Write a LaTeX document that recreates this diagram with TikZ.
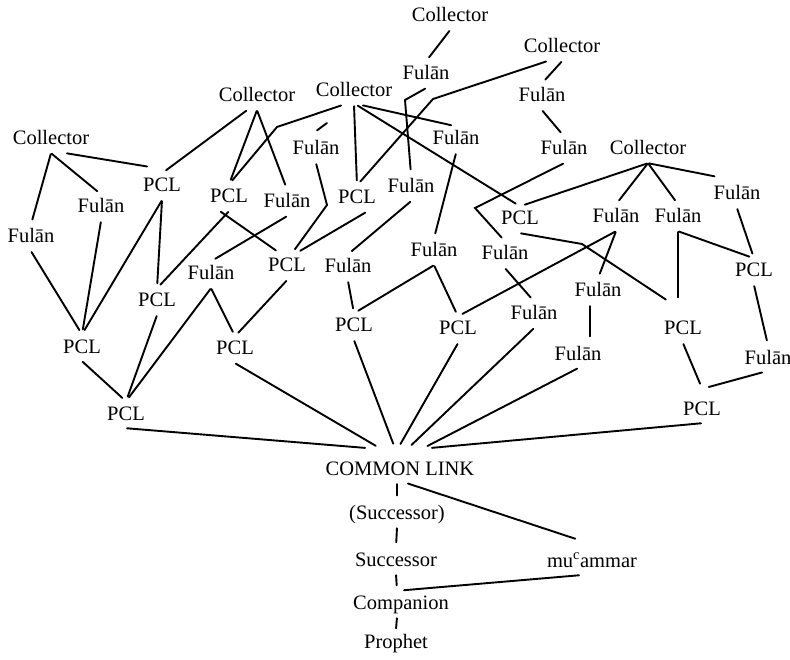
\documentclass[tikz,border=0pt]{standalone}
\usepackage{fontspec}
\setmainfont{Liberation Serif}
\begin{document}
\begin{tikzpicture}[x=1pt,y=-1pt,
  lbl/.style={anchor=base, font=\fontsize{20.5}{24}\selectfont, inner xsep=2pt, inner ysep=4pt, text height=14.5pt, text depth=4pt},
  cn/.style={line width=1.9pt, line cap=round, shorten >=5pt, shorten <=1pt}]
\fill[white] (0,0) rectangle (790,660);
\useasboundingbox (0,0) rectangle (790,660);
% collectors
\node[lbl] (CA) at (450,22) {Collector};
\node[lbl] (CB) at (562,53) {Collector};
\node[lbl] (CC) at (354,97) {Collector};
\node[lbl] (CD) at (257,102) {Collector};
\node[lbl] (CE) at (51,145) {Collector};
\node[lbl] (CF) at (648,155) {Collector};
% Fulan
\node[lbl] (F1) at (426,80) {Fulān};
\node[lbl] (F2) at (542,102) {Fulān};
\node[lbl] (F3) at (564,155) {Fulān};
\node[lbl] (F4) at (287,208) {Fulān};
\node[lbl] (F5) at (316,155) {Fulān};
\node[lbl] (F6) at (411,193) {Fulān};
\node[lbl] (F7) at (456,145) {Fulān};
\node[lbl] (F8) at (616,223) {Fulān};
\node[lbl] (F9) at (678,223) {Fulān};
\node[lbl] (F10) at (737,200) {Fulān};
\node[lbl] (F11) at (101,213) {Fulān};
\node[lbl] (F12) at (31,243) {Fulān};
\node[lbl] (F13) at (211,280) {Fulān};
\node[lbl] (F14) at (348,273) {Fulān};
\node[lbl] (F15) at (434,257) {Fulān};
\node[lbl] (F16) at (505,260) {Fulān};
\node[lbl] (F17) at (598,297) {Fulān};
\node[lbl] (F18) at (534,320) {Fulān};
\node[lbl] (F19) at (578,360) {Fulān};
\node[lbl] (F20) at (768,364) {Fulān};
% PCL
\node[lbl] (P1) at (162,192) {PCL};
\node[lbl] (P2) at (229,203) {PCL};
\node[lbl] (P3) at (357,204) {PCL};
\node[lbl] (P4) at (520,225) {PCL};
\node[lbl] (P5) at (287,272) {PCL};
\node[lbl] (P6) at (754,277) {PCL};
\node[lbl] (P7) at (157,307) {PCL};
\node[lbl] (P8) at (354,332) {PCL};
\node[lbl] (P9) at (458,335) {PCL};
\node[lbl] (P10) at (683,335) {PCL};
\node[lbl] (P11) at (82,353) {PCL};
\node[lbl] (P12) at (235,355) {PCL};
\node[lbl] (P13) at (126,420) {PCL};
\node[lbl] (P14) at (702,415) {PCL};
% bottom chain
\node[lbl] (CL) at (400,475) {COMMON LINK};
\node[lbl] (S1) at (397,519) {(Successor)};
\node[lbl] (S2) at (396,566) {Successor};
\node[lbl] (MU) at (592,567) {mu\textsuperscript{c}ammar};
\node[lbl] (CO) at (401,609) {Companion};
\node[lbl] (PR) at (396,648) {Prophet};
% kink points
\coordinate (K1) at (277,127);
\coordinate (K2) at (433,99);
\coordinate (K3) at (405,100);
\coordinate (K4) at (475,208);
\coordinate (K5) at (327,205);
\coordinate (K6) at (582,244);
% top edges
\draw[cn] (CA.south) -- (F1.north);
\draw[cn] (CB.south) -- (F2.north);
\draw[cn] (F2.south) -- (F3.north);
\draw[cn] ([xshift=-15pt]CB.south) -- (K2) -- (P3.north);
\draw[cn] (F1.south) -- (K3) -- (F6.north);
\draw[cn, shorten <=30pt, shorten >=10pt] ([xshift=-3pt]CC.south) -- ([xshift=-7pt]F5.north);
\draw[cn] ([xshift=-12pt]CC.south) -- (K1) -- (P2.north);
\draw[cn] (CC.south) -- (P3.north);
\draw[cn] ([xshift=3pt]CC.south) -- (P4.north);
\draw[cn] ([xshift=8pt]CC.south) -- (F7.north);
\draw[cn] ([xshift=-10pt]CD.south) -- (P1.north);
\draw[cn] (CD.south) -- (P2.north);
\draw[cn] (CD.south) -- (F4.north);
\draw[cn] (CE.south) -- (F12.north);
\draw[cn] (CE.south) -- (F11.north);
\draw[cn] ([xshift=15pt]CE.south) -- ([xshift=-10pt,yshift=6pt]P1.north);
\draw[cn] (CF.south) -- (P4.north);
\draw[cn] (CF.south) -- (F8.north);
\draw[cn] (CF.south) -- (F9.north);
\draw[cn] (CF.south) -- ([xshift=8pt,yshift=4pt]F10.north west);
\draw[cn] (F3.south) -- (K4) -- (F16.north);
\draw[cn] (F7.south) -- (F15.north);
\draw[cn] (F6.south) -- (F14.north);
\draw[cn] (F5.south) -- (K5) -- ([xshift=5pt]P5.north);
\draw[cn] (F4.south) -- (F13.north);
% middle edges
\draw[cn] (P1.south) -- (P11.north);
\draw[cn] (P1.south) -- (P7.north);
\draw[cn] (P2.south) -- (P7.north);
\draw[cn] ([xshift=-9pt]P2.south) -- ([xshift=-7pt]P5.north);
\draw[cn] ([xshift=9pt]P3.south) -- ([xshift=9pt]P5.north);
\draw[cn] (F12.south) -- (P11.north);
\draw[cn] (F11.south) -- (P11.north);
\draw[cn] (P5.south) -- (P12.north);
\draw[cn] (F13.south) -- (P12.north);
\draw[cn] (F13.south) -- (P13.north);
\draw[cn] (P11.south) -- (P13.north);
\draw[cn] (P7.south) -- (P13.north);
\draw[cn] (F14.south) -- (P8.north);
\draw[cn] (F15.south) -- (P8.north);
\draw[cn] (F15.south) -- (P9.north);
\draw[cn] (F8.south) -- (P9.north);
\draw[cn] (F8.south) -- (F17.north);
\draw[cn] ([xshift=-8pt]F17.south) -- ([xshift=12pt]F19.north);
\draw[cn] (F16.south) -- (F18.north);
\draw[cn] (F9.south) -- (P6.north);
\draw[cn] (F9.south) -- ([xshift=-5pt,yshift=14pt]P10.north);
\draw[cn] (F10.south) -- (P6.north);
\draw[cn] (P4.south) -- (K6) -- ([xshift=-13pt,yshift=14pt]P10.north);
\draw[cn] (P6.south) -- (F20.north);
\draw[cn] ([xshift=-5pt]F20.south) -- ([xshift=2pt,yshift=8pt]P14.north);
\draw[cn] (P10.south) -- ([yshift=8pt]P14.north);
% into common link
\draw[cn] (P13.south) -- ([xshift=-30pt,yshift=8pt]CL.north);
\draw[cn] (P12.south) -- ([xshift=-20pt,yshift=8pt]CL.north);
\draw[cn] (P8.south) -- ([xshift=-5pt,yshift=8pt]CL.north);
\draw[cn] (P9.south) -- ([xshift=-2pt,yshift=8pt]CL.north);
\draw[cn] (F18.south) -- ([xshift=8pt,yshift=8pt]CL.north);
\draw[cn] (F19.south) -- ([xshift=23pt,yshift=8pt]CL.north);
\draw[cn] (P14.south) -- ([xshift=27pt,yshift=8pt]CL.north);
% bottom chain
\draw[cn] ([xshift=-3pt]CL.south) -- (S1.north);
\draw[cn] (S1.south) -- (S2.north);
\draw[cn] (S2.south) -- ([xshift=-4pt]CO.north);
\draw[cn, shorten >=1pt] ([xshift=-4pt]CO.south) -- (PR.north);
\draw[cn] ([xshift=7pt]CL.south) -- ([xshift=-12pt,yshift=8pt]MU.north);
\draw[cn, shorten >=1pt] ([xshift=-12pt]MU.south) -- ([xshift=2pt]CO.north);
\end{tikzpicture}
\end{document}
